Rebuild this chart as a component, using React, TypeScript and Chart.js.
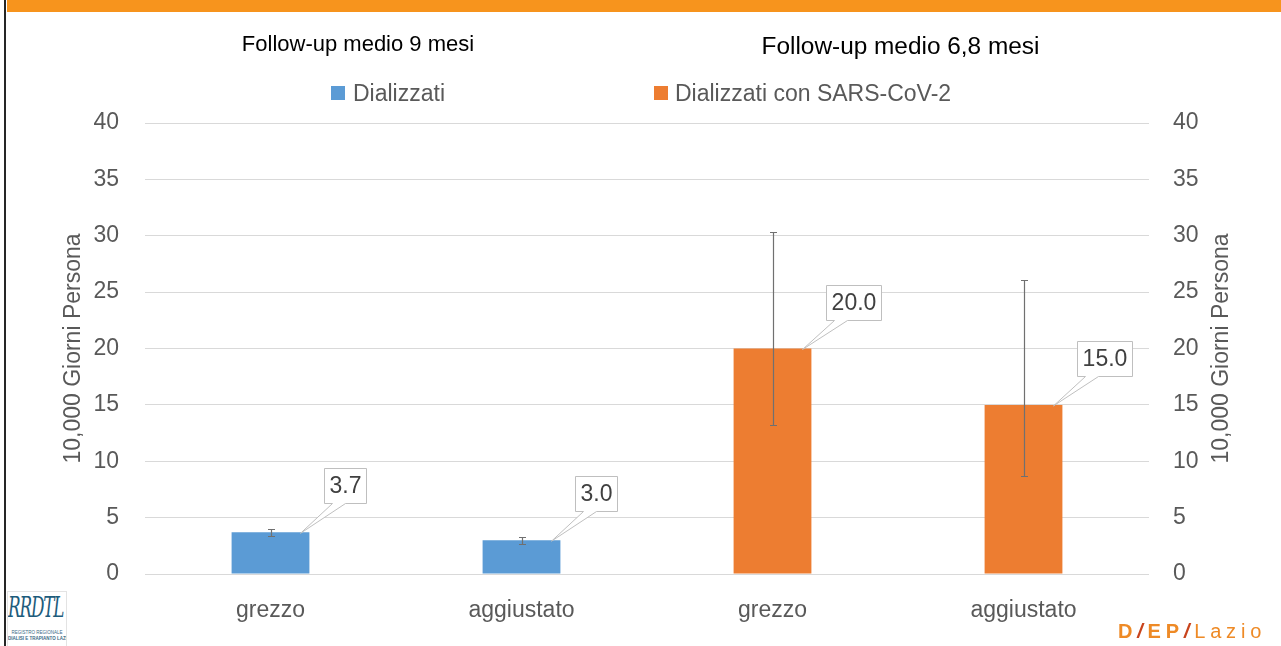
import React, { useEffect, useRef } from 'react';
import { Chart, registerables } from 'chart.js';

Chart.register(...registerables);

// ---- data ----
const categories = ['grezzo', 'aggiustato', 'grezzo', 'aggiustato'];
const seriesNames = ['Dializzati', 'Dializzati con SARS-CoV-2'];
const seriesColors = ['#5B9BD5', '#ED7D31'];
const dializzati = [3.7, 3.0, null, null];
const dializzatiCovid = [null, null, 20.0, 15.0];
const errLowDial = [3.4, 2.7, null, null];
const errHighDial = [4.0, 3.3, null, null];
const errLowCovid = [null, null, 13.2, 8.7];
const errHighCovid = [null, null, 30.3, 26.1];
const yMin = 0;
const yMax = 40;
const yStep = 5;
const axisTitle = '10,000 Giorni Persona';
const groupTitles = ['Follow-up medio 9 mesi', 'Follow-up medio 6,8 mesi'];

const FONT = '"Liberation Sans", Arial, sans-serif';
const GRAY = '#595959';

export default function App() {
  const ref = useRef<HTMLCanvasElement>(null);

  useEffect(() => {
    document.body.style.margin = '0';
    const canvas = ref.current as HTMLCanvasElement;
    const lows = [errLowDial, errLowCovid];
    const highs = [errHighDial, errHighCovid];

    const errorBars = {
      id: 'errorBars',
      afterDatasetsDraw(chart: any) {
        const ctx = chart.ctx;
        const ys = chart.scales.y;
        chart.data.datasets.forEach((_ds: any, di: number) => {
          const meta = chart.getDatasetMeta(di);
          meta.data.forEach((bar: any, i: number) => {
            const lo = lows[di][i];
            const hi = highs[di][i];
            if (lo == null || hi == null) return;
            const x = Math.round(bar.x) + 0.5;
            const y1 = Math.round(ys.getPixelForValue(lo)) + 0.5;
            const y2 = Math.round(ys.getPixelForValue(hi)) + 0.5;
            ctx.save();
            ctx.strokeStyle = '#707070';
            ctx.lineWidth = 1.2;
            ctx.beginPath();
            ctx.moveTo(x, y1);
            ctx.lineTo(x, y2);
            ctx.moveTo(x - 3.5, y1);
            ctx.lineTo(x + 3.5, y1);
            ctx.moveTo(x - 3.5, y2);
            ctx.lineTo(x + 3.5, y2);
            ctx.stroke();
            ctx.restore();
          });
        });
      },
    };

    const callouts = {
      id: 'callouts',
      afterDatasetsDraw(chart: any) {
        const ctx = chart.ctx;
        chart.data.datasets.forEach((ds: any, di: number) => {
          const meta = chart.getDatasetMeta(di);
          meta.data.forEach((bar: any, i: number) => {
            const v = ds.data[i];
            if (v == null) return;
            const text = v.toFixed(1);
            ctx.save();
            ctx.font = `23px ${FONT}`;
            const tw = ctx.measureText(text).width;
            const w = Math.round(tw + 10);
            const h = 35;
            const left = Math.round(bar.x + 53) + 0.5;
            const bottom = Math.round(bar.y - 29) + 0.5;
            const top = bottom - h;
            const tipX = bar.x + 30;
            const tipY = bar.y + 1;
            ctx.beginPath();
            ctx.moveTo(left, top);
            ctx.lineTo(left + w, top);
            ctx.lineTo(left + w, bottom);
            ctx.lineTo(left + 21, bottom);
            ctx.lineTo(tipX, tipY);
            ctx.lineTo(left + 8, bottom);
            ctx.lineTo(left, bottom);
            ctx.closePath();
            ctx.fillStyle = '#FFFFFF';
            ctx.fill();
            ctx.strokeStyle = '#BFBFBF';
            ctx.lineWidth = 1;
            ctx.stroke();
            ctx.fillStyle = '#404040';
            ctx.textAlign = 'center';
            ctx.textBaseline = 'middle';
            ctx.fillText(text, left + w / 2, top + h / 2 + 1);
            ctx.restore();
          });
        });
      },
    };

    const rightTitle = {
      id: 'rightTitle',
      afterDraw(chart: any) {
        const ctx = chart.ctx;
        const ca = chart.chartArea;
        ctx.save();
        ctx.translate(1222, (ca.top + ca.bottom) / 2);
        ctx.rotate(-Math.PI / 2);
        ctx.font = `23px ${FONT}`;
        ctx.fillStyle = GRAY;
        ctx.textAlign = 'center';
        ctx.textBaseline = 'middle';
        ctx.fillText(axisTitle, 0, 0);
        ctx.restore();
      },
    };

    const tickFont = { family: FONT, size: 23 };

    const chart = new Chart(canvas, {
      type: 'bar',
      data: {
        labels: categories,
        datasets: [
          { label: seriesNames[0], data: dializzati as any, backgroundColor: seriesColors[0], yAxisID: 'y', skipNull: true } as any,
          { label: seriesNames[1], data: dializzatiCovid as any, backgroundColor: seriesColors[1], yAxisID: 'y', skipNull: true } as any,
        ],
      },
      options: {
        responsive: false,
        maintainAspectRatio: false,
        animation: false,
        devicePixelRatio: 1,
        layout: { padding: { top: 123, left: 0, right: 0, bottom: 0 } },
        datasets: { bar: { categoryPercentage: 1, barPercentage: 0.31 } },
        plugins: {
          legend: { display: false },
          tooltip: { enabled: false },
          title: { display: false },
        },
        scales: {
          x: {
            grid: { display: false, drawTicks: false },
            border: { display: false },
            ticks: { color: GRAY, font: tickFont, padding: 23, maxRotation: 0, autoSkip: false },
            afterFit: (s: any) => { s.height = 72; },
          },
          y: {
            position: 'left',
            min: yMin,
            max: yMax,
            ticks: { stepSize: yStep, padding: 26, color: GRAY, font: tickFont },
            grid: { color: '#D9D9D9', lineWidth: 1, drawTicks: false },
            border: { display: false },
            title: {
              display: true,
              text: axisTitle,
              color: GRAY,
              font: { family: FONT, size: 23 },
              padding: { top: 60, bottom: 0 },
            },
            afterFit: (s: any) => { s.width = 145; },
          },
          y2: {
            position: 'right',
            min: yMin,
            max: yMax,
            ticks: { stepSize: yStep, padding: 24, color: GRAY, font: tickFont },
            grid: { display: false, drawTicks: false },
            border: { display: false },
            afterFit: (s: any) => { s.width = 132; },
          },
        },
      } as any,
      plugins: [errorBars, callouts, rightTitle],
    });
    return () => chart.destroy();
  }, []);

  const abs = (o: any) => ({ position: 'absolute' as const, whiteSpace: 'nowrap' as const, ...o });

  return (
    <div style={{ position: 'absolute', left: 0, top: 0, width: 1281, height: 646, background: '#FFFFFF', overflow: 'hidden', fontFamily: FONT }}>
      <div style={abs({ left: 7, top: 0, width: 1274, height: 12, background: '#F7941D' })} />
      <div style={abs({ left: 4, top: 0, width: 2, height: 646, background: '#262626' })} />
      <canvas ref={ref} width={1281} height={646} style={{ position: 'absolute', left: 0, top: 0 }} />

      {/* group titles */}
      <div style={abs({ left: 358 - 300, width: 600, top: 33, textAlign: 'center', fontSize: 22, lineHeight: '1', color: '#000' })}>{groupTitles[0]}</div>
      <div style={abs({ left: 900.5 - 300, width: 600, top: 34, textAlign: 'center', fontSize: 24.4, lineHeight: '1', color: '#000' })}>{groupTitles[1]}</div>

      {/* legend */}
      <div style={abs({ left: 331, top: 86, width: 14, height: 14, background: seriesColors[0] })} />
      <div style={abs({ left: 353, top: 82, fontSize: 23, lineHeight: '1', color: GRAY })}>{seriesNames[0]}</div>
      <div style={abs({ left: 654, top: 86, width: 14, height: 14, background: seriesColors[1] })} />
      <div style={abs({ left: 675, top: 82, fontSize: 23, lineHeight: '1', color: GRAY })}>{seriesNames[1]}</div>

      {/* RRDTL logo */}
      <div style={abs({ left: 7, top: 591, width: 60, height: 60, background: '#fff', border: '1px solid #E3E3E3', boxSizing: 'border-box', overflow: 'hidden' })}>
        <div style={abs({ left: 0, top: 2, fontFamily: '"DejaVu Serif", serif', fontStyle: 'italic', fontSize: 28, lineHeight: '1', color: '#1D5C7C', transform: 'scaleX(0.6)', transformOrigin: 'left top', letterSpacing: -2 })}>RRDTL</div>
        <div style={abs({ left: 0, width: 58, top: 38, textAlign: 'center', fontSize: 4.5, lineHeight: '1.2', color: '#3A6A86' })}>REGISTRO REGIONALE</div>
        <div style={abs({ left: 0, width: 58, top: 44, textAlign: 'center', fontSize: 4.5, lineHeight: '1.2', color: '#3A6A86', fontWeight: 'bold' })}>DIALISI E TRAPIANTO LAZIO</div>
      </div>

      {/* DEP Lazio logo */}
      <div style={abs({ left: 1118, top: 621, fontSize: 20, lineHeight: '1', letterSpacing: 4.8 })}>
        <span style={{ color: '#EE8A26', fontWeight: 'bold' }}>D</span>
        <span style={{ color: '#C8431C', fontWeight: 'bold', fontStyle: 'italic' }}>/</span>
        <span style={{ color: '#EE8A26', fontWeight: 'bold' }}>EP</span>
        <span style={{ color: '#C8431C', fontWeight: 'bold', fontStyle: 'italic' }}>/</span>
        <span style={{ color: '#EE8A26' }}>Lazio</span>
      </div>
    </div>
  );
}
